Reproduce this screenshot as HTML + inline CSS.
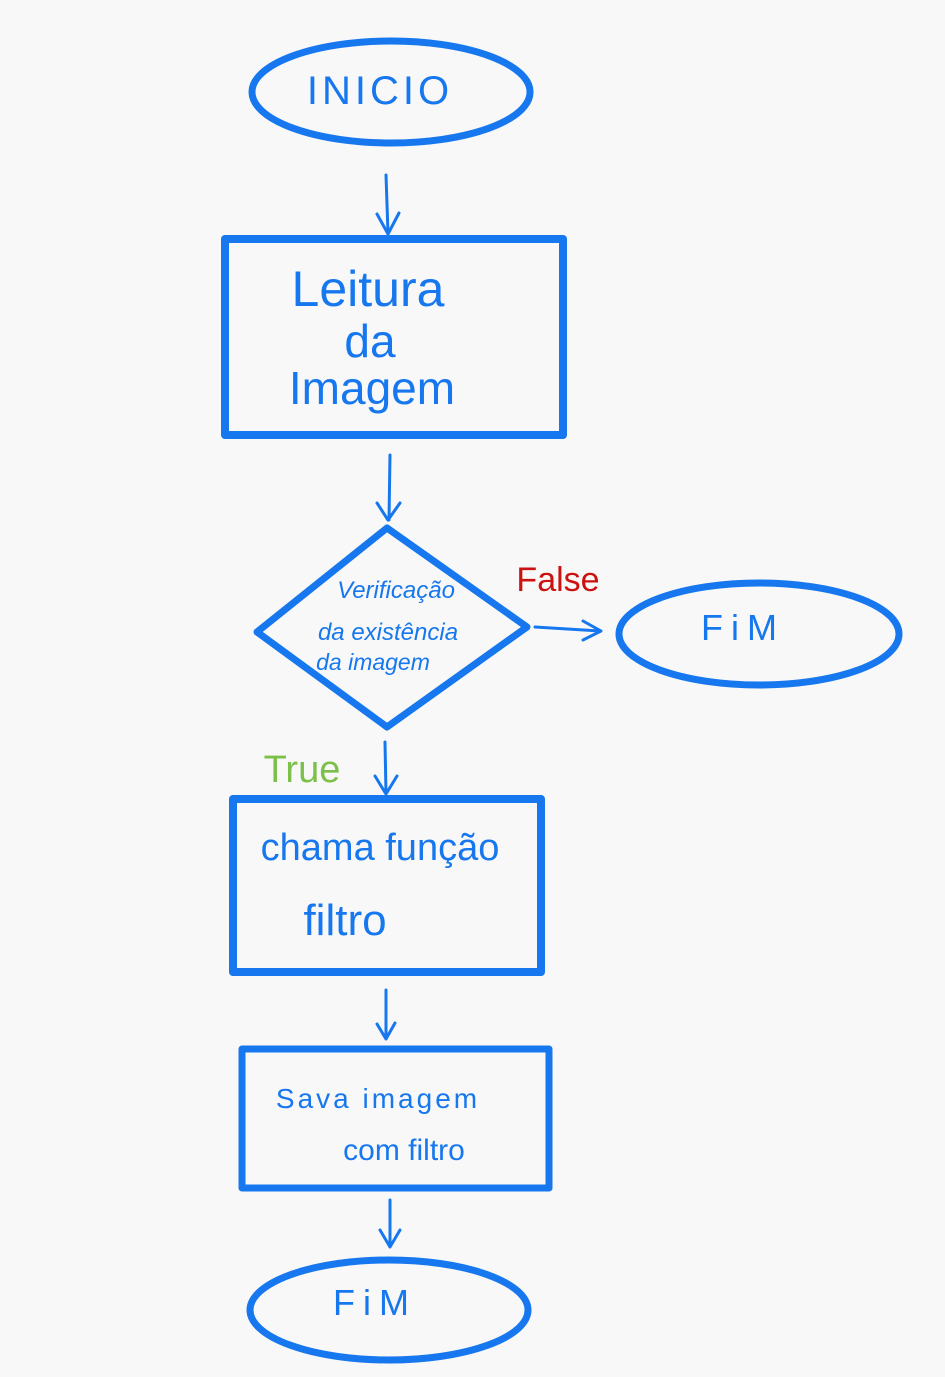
<!DOCTYPE html>
<html><head><meta charset="utf-8"><style>
html,body{margin:0;padding:0;background:#f8f8f8;}
svg{display:block}
text{font-family:"Liberation Sans",sans-serif;fill:#1677ee;}
</style></head><body>
<svg width="945" height="1377" viewBox="0 0 945 1377" xmlns="http://www.w3.org/2000/svg">
<rect width="945" height="1377" fill="#f8f8f8"/>
<defs>
<marker id="a" markerWidth="10" markerHeight="10" refX="5" refY="5" orient="auto" markerUnits="userSpaceOnUse">
</marker>
</defs>
<g stroke="#1677ee" fill="none" stroke-linecap="round" stroke-linejoin="round">
<ellipse cx="391" cy="92" rx="139" ry="51" stroke-width="7"/>
<line x1="386" y1="175" x2="388" y2="233" stroke-width="3"/>
<polyline points="377,214 388,234 399,213" stroke-width="3"/>
<rect x="225" y="239" width="338" height="196" stroke-width="8"/>
<line x1="390" y1="455" x2="389" y2="520" stroke-width="3"/>
<polyline points="377,503 388,520 400,503" stroke-width="3"/>
<polygon points="387,528 527,627 387,727 257,632" stroke-width="7"/>
<line x1="535" y1="627" x2="600" y2="631" stroke-width="3"/>
<polyline points="583,621 601,631 583,640" stroke-width="3"/>
<ellipse cx="759" cy="634" rx="140" ry="51" stroke-width="7"/>
<line x1="385" y1="742" x2="386" y2="793" stroke-width="3"/>
<polyline points="375,776 386,794 397,776" stroke-width="3"/>
<rect x="233" y="799" width="308" height="173" stroke-width="8"/>
<line x1="386" y1="990" x2="386" y2="1038" stroke-width="3"/>
<polyline points="377,1024 386,1039 395,1023" stroke-width="3"/>
<rect x="242" y="1049" width="307" height="139" stroke-width="7"/>
<line x1="390" y1="1200" x2="390" y2="1246" stroke-width="3"/>
<polyline points="380,1230 390,1247 400,1230" stroke-width="3"/>
<ellipse cx="389" cy="1310" rx="139" ry="50" stroke-width="7"/>
</g>
<text x="380" y="104" font-size="40" text-anchor="middle" letter-spacing="4">INICIO</text>
<text x="368" y="306" font-size="50" text-anchor="middle">Leitura</text>
<text x="370" y="357" font-size="46" text-anchor="middle">da</text>
<text x="372" y="404" font-size="46" text-anchor="middle">Imagem</text>
<text x="396" y="598" font-size="24" text-anchor="middle" font-style="italic">Verificação</text>
<text x="388" y="640" font-size="24" text-anchor="middle" font-style="italic">da existência</text>
<text x="373" y="670" font-size="23" text-anchor="middle" font-style="italic">da imagem</text>
<text x="558" y="591" font-size="34" text-anchor="middle" style="fill:#cc1111">False</text>
<text x="743" y="640" font-size="36" text-anchor="middle" letter-spacing="8">FiM</text>
<text x="302" y="782" font-size="38" text-anchor="middle" style="fill:#7cc04a">True</text>
<text x="380" y="860" font-size="38" text-anchor="middle">chama função</text>
<text x="345" y="935" font-size="44" text-anchor="middle">filtro</text>
<text x="378" y="1108" font-size="28" text-anchor="middle" letter-spacing="3">Sava imagem</text>
<text x="404" y="1160" font-size="30" text-anchor="middle">com filtro</text>
<text x="375" y="1315" font-size="36" text-anchor="middle" letter-spacing="8">FiM</text>
</svg>
</body></html>
